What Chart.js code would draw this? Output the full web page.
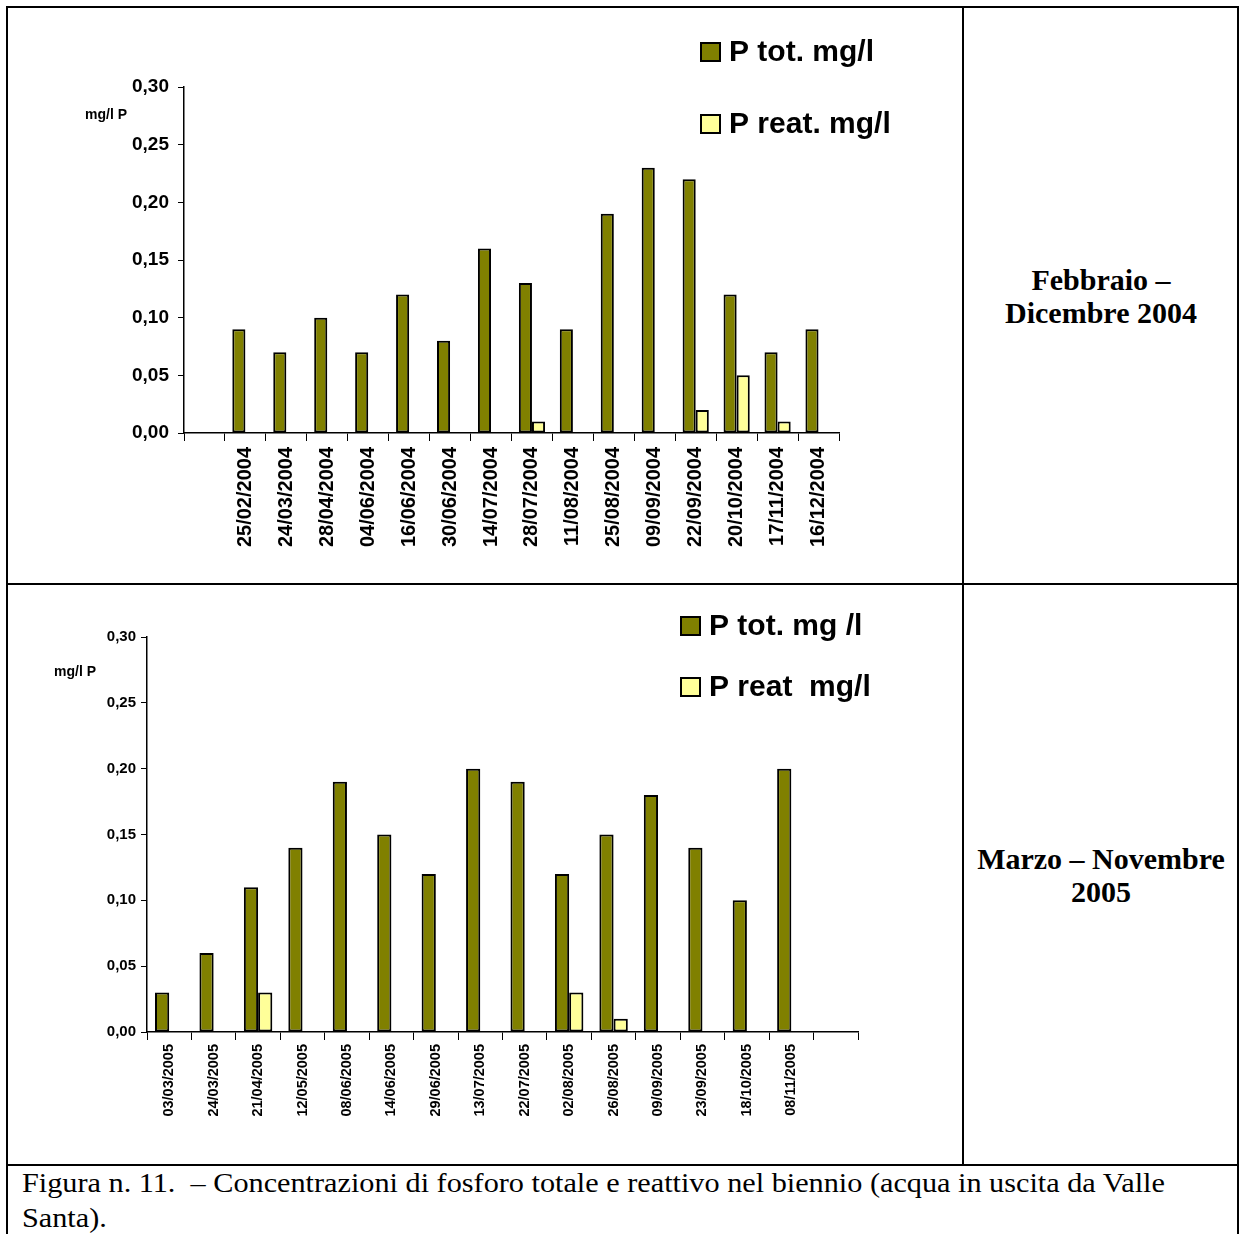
<!DOCTYPE html>
<html>
<head>
<meta charset="utf-8">
<script src="https://cdn.jsdelivr.net/npm/chart.js@4.4.0/dist/chart.umd.min.js"></script>
<style>
  body { margin: 0; background: #fff; }
  #page { position: relative; width: 1239px; height: 1234px; overflow: hidden; font-family: "Liberation Serif", "Times New Roman", serif; }
  .line { position: absolute; background: #000; }
  canvas { position: absolute; }
  .unit { position: absolute; font: bold 14px "Liberation Sans", Arial, sans-serif; }
  .side { position: absolute; left: 965px; width: 272px; display: flex; align-items: center; justify-content: center; text-align: center; font-weight: bold; font-size: 30px; line-height: 33px; }
  .caption { position: absolute; left: 22px; top: 1166px; font-size: 27px; line-height: 35px; white-space: pre; transform: scaleX(1.12); transform-origin: left top; }
</style>
</head>
<body>
<div id="page">
  <!-- table borders -->
  <div class="line" style="left:7px;top:6px;width:1232px;height:2px"></div>
  <div class="line" style="left:6px;top:6px;width:2px;height:1230px"></div>
  <div class="line" style="left:1237px;top:6px;width:2px;height:1230px"></div>
  <div class="line" style="left:962px;top:6px;width:2px;height:1160px"></div>
  <div class="line" style="left:7px;top:583px;width:1232px;height:2px"></div>
  <div class="line" style="left:7px;top:1164px;width:1232px;height:2px"></div>

  <canvas id="chart2004" width="954" height="575" style="left:8px;top:8px"></canvas>
  <canvas id="chart2005" width="954" height="579" style="left:8px;top:585px"></canvas>

  <div class="unit" style="left:85px;top:106px">mg/l P</div>
  <div class="unit" style="left:54px;top:663px">mg/l P</div>

  <div class="side" style="top:8px;height:576px">Febbraio –<br>Dicembre 2004</div>
  <div class="side" style="top:585px;height:580px">Marzo – Novembre<br>2005</div>

  <div class="caption">Figura n. 11.  – Concentrazioni di fosforo totale e reattivo nel biennio (acqua in uscita da Valle
Santa).</div>
</div>

<script>
// Febbraio - Dicembre 2004 (first category slot is empty in the original)
const dates2004 = ['', '25/02/2004', '24/03/2004', '28/04/2004', '04/06/2004', '16/06/2004', '30/06/2004',
    '14/07/2004', '28/07/2004', '11/08/2004', '25/08/2004', '09/09/2004', '22/09/2004',
    '20/10/2004', '17/11/2004', '16/12/2004'];
const ptot2004 = [null, 0.09, 0.07, 0.10, 0.07, 0.12, 0.08, 0.16, 0.13, 0.09, 0.19, 0.23, 0.22, 0.12, 0.07, 0.09];
const preat2004 = [null, null, null, null, null, null, null, null, 0.01, null, null, null, 0.02, 0.05, 0.01, null];

// Marzo - Novembre 2005 (last category slot is empty)
const dates2005 = ['03/03/2005', '24/03/2005', '21/04/2005', '12/05/2005', '08/06/2005', '14/06/2005',
    '29/06/2005', '13/07/2005', '22/07/2005', '02/08/2005', '26/08/2005', '09/09/2005',
    '23/09/2005', '18/10/2005', '08/11/2005', ''];
const ptot2005 = [0.03, 0.06, 0.11, 0.14, 0.19, 0.15, 0.12, 0.20, 0.19, 0.12, 0.15, 0.18, 0.14, 0.10, 0.20, null];
const preat2005 = [null, null, 0.03, null, null, null, null, null, null, 0.03, 0.01, null, null, null, null, null];

const yTicks = [0, 0.05, 0.10, 0.15, 0.20, 0.25, 0.30];

const OLIVE = '#808000';
const PALE = '#FFFF99';

// Legend drawn by hand at the spot Excel put it
const boxLegend = {
    id: 'boxLegend',
    afterDraw(chart, args, opts) {
        const ctx = chart.ctx;
        ctx.save();
        ctx.font = 'bold ' + opts.size + 'px "Liberation Sans", Arial, sans-serif';
        ctx.textBaseline = 'middle';
        chart.data.datasets.forEach((ds, i) => {
            const y = opts.y + i * opts.gap;
            ctx.fillStyle = ds.backgroundColor;
            ctx.fillRect(opts.x, y, 19, 18);
            ctx.strokeStyle = '#000';
            ctx.lineWidth = 2;
            ctx.strokeRect(opts.x, y, 19, 18);
            ctx.fillStyle = '#000';
            ctx.fillText(ds.label, opts.x + 28, y + 10);
        });
        ctx.restore();
    }
};

function makeChart(id, labels, ptot, preat, names, cfg) {
    const ctx = document.getElementById(id).getContext('2d');
    return new Chart(ctx, {
        type: 'bar',
        data: {
            labels: labels,
            datasets: [{
                label: names[0],
                data: ptot,
                backgroundColor: OLIVE,
                borderColor: '#000',
                borderWidth: 2,
                borderSkipped: false,
                categoryPercentage: 0.64,
                barPercentage: 1
            }, {
                label: names[1],
                data: preat,
                backgroundColor: PALE,
                borderColor: '#000',
                borderWidth: 2,
                borderSkipped: false,
                categoryPercentage: 0.64,
                barPercentage: 1
            }]
        },
        options: {
            responsive: false,
            animation: false,
            layout: {
                padding: { top: cfg.top, right: cfg.right, left: 0, bottom: 0 }
            },
            plugins: {
                legend: { display: false },
                tooltip: { enabled: false },
                boxLegend: cfg.legend
            },
            scales: {
                x: {
                    grid: { drawOnChartArea: false, color: '#000', tickLength: 8, tickWidth: 1 },
                    border: { color: '#000', width: 1.5 },
                    ticks: {
                        autoSkip: false,
                        maxRotation: 90,
                        minRotation: 90,
                        padding: cfg.xPad,
                        color: '#000',
                        font: { family: '"Liberation Sans", Arial, sans-serif', weight: 'bold', size: cfg.xFont }
                    },
                    afterFit: function(scale) { scale.height = cfg.xHeight; }
                },
                y: {
                    min: 0,
                    max: 0.3,
                    afterBuildTicks: function(scale) {
                        scale.ticks = yTicks.map(v => ({ value: v }));
                    },
                    grid: { drawOnChartArea: false, color: '#000', tickLength: 6, tickWidth: 1 },
                    border: { color: '#000', width: 1.5 },
                    ticks: {
                        padding: cfg.yPad,
                        color: '#000',
                        font: { family: '"Liberation Sans", Arial, sans-serif', weight: 'bold', size: cfg.yFont },
                        callback: function(value) {
                            return value.toFixed(2).replace('.', ',');
                        }
                    },
                    afterFit: function(scale) { scale.width = cfg.yWidth; }
                }
            }
        },
        plugins: [boxLegend]
    });
}

makeChart('chart2004', dates2004, ptot2004, preat2004, ['P tot. mg/l', 'P reat. mg/l'], {
    top: 79, right: 123, yWidth: 176, xHeight: 150,
    xFont: 20, yFont: 19, xPad: 6, yPad: 9,
    legend: { x: 693, y: 35, gap: 72, size: 30 }
});

makeChart('chart2005', dates2005, ptot2005, preat2005, ['P tot. mg /l', 'P reat  mg/l'], {
    top: 52, right: 104, yWidth: 139, xHeight: 132,
    xFont: 14.5, yFont: 15, xPad: 4, yPad: 5,
    legend: { x: 673, y: 32, gap: 61, size: 30 }
});
</script>
</body>
</html>
